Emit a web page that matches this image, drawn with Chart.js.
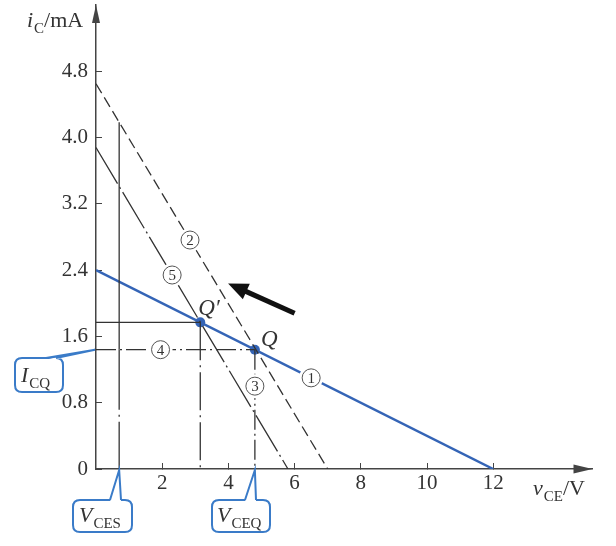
<!DOCTYPE html>
<html>
<head>
<meta charset="utf-8">
<script src="https://cdn.jsdelivr.net/npm/chart.js@4.4.1/dist/chart.umd.min.js"></script>
<style>
  html, body { margin: 0; padding: 0; background: #fff; }
  #wrap { width: 616px; height: 546px; }
</style>
</head>
<body>
<div id="wrap"><canvas id="chart"></canvas></div>
<script>
// Transistor output characteristic: load lines and Q points

// axis ticks
const xTicks = [0, 2, 4, 6, 8, 10, 12];
const yTicks = [0, 0.8, 1.6, 2.4, 3.2, 4.0, 4.8];

// lines as [start, end]: v_CE in V, i_C in mA
const line1V = [0, 12];   const line1I = [2.4, 0];    // (1) load line
const line2V = [0, 7];    const line2I = [4.65, 0];   // (2)
const line5V = [0, 5.8];  const line5I = [3.88, 0];   // (5)

// operating points Q and Q'
const pointV = [4.8, 3.15];
const pointI = [1.44, 1.77];
const vCES = 0.7;

const ink = '#333';
const blue = '#3464b6';
const serif = '"Liberation Serif", "Times New Roman", serif';

function seg(vs, is, opts) {
    return Object.assign({
        type: 'line',
        data: vs.map((v, k) => ({ x: v, y: is[k] })),
        borderColor: ink,
        borderWidth: 1.3,
        pointRadius: 0,
        fill: false,
        tension: 0
    }, opts || {});
}

function iOnLine(vs, is, v) {
    return is[0] + (is[1] - is[0]) * (v - vs[0]) / (vs[1] - vs[0]);
}

const vQ = pointV[0], iQ = pointI[0];
const vQp = pointV[1], iQp = pointI[1];
const iTopCES = iOnLine(line2V, line2I, vCES);

const datasets = [
    seg(line2V, line2I, { borderDash: [11, 5] }),
    seg(line5V, line5I, { borderDash: [42, 4, 2, 4] }),
    seg([vCES, vCES], [iTopCES, iQ]),
    seg([vCES, vCES], [iQ, 0], { borderDash: [60, 5, 2, 5] }),
    seg([0, vQp], [iQp, iQp]),
    seg([vQp, vQp], [iQp, 0], { borderDash: [38, 5, 2, 5] }),
    seg([0, vQ], [iQ, iQ], { borderDash: [20, 4, 2, 4] }),
    seg([vQ, vQ], [iQ, 0], { borderDash: [20, 4, 2, 4] }),
    seg(line1V, line1I, { borderColor: blue, borderWidth: 2.5 }),
    {
        type: 'scatter',
        data: pointV.map((v, k) => ({ x: v, y: pointI[k] })),
        pointRadius: 5,
        pointBackgroundColor: blue,
        pointBorderWidth: 0
    }
];

// text with subscript: parts = [[text, italic, sub], ...]
function richText(ctx, x, y, parts) {
    ctx.textAlign = 'left';
    ctx.textBaseline = 'alphabetic';
    ctx.fillStyle = ink;
    parts.forEach(p => {
        const size = p[2] ? 15 : 22;
        ctx.font = (p[1] ? 'italic ' : '') + size + 'px ' + serif;
        ctx.fillText(p[0], x, y + (p[2] ? 6 : 0));
        x += ctx.measureText(p[0]).width + (p[1] ? 1 : 0);
    });
}

function circled(ctx, x, y, n) {
    ctx.beginPath();
    ctx.arc(x, y, 12, 0, Math.PI * 2);
    ctx.fillStyle = '#fff';
    ctx.fill();
    ctx.beginPath();
    ctx.arc(x, y, 9, 0, Math.PI * 2);
    ctx.lineWidth = 1;
    ctx.strokeStyle = '#555';
    ctx.stroke();
    ctx.fillStyle = ink;
    ctx.font = '15px ' + serif;
    ctx.textAlign = 'center';
    ctx.textBaseline = 'middle';
    ctx.fillText(n, x, y + 1);
}

function roundRect(ctx, x, y, w, h, r) {
    ctx.beginPath();
    ctx.moveTo(x + r, y);
    ctx.lineTo(x + w - r, y);
    ctx.quadraticCurveTo(x + w, y, x + w, y + r);
    ctx.lineTo(x + w, y + h - r);
    ctx.quadraticCurveTo(x + w, y + h, x + w - r, y + h);
    ctx.lineTo(x + r, y + h);
    ctx.quadraticCurveTo(x, y + h, x, y + h - r);
    ctx.lineTo(x, y + r);
    ctx.quadraticCurveTo(x, y, x + r, y);
    ctx.closePath();
}

// callout box with a wedge pointer from the top edge to the tip
function callout(ctx, bx, by, bw, bh, b1, b2, tip, parts, tx, ty) {
    ctx.save();
    ctx.lineWidth = 2;
    ctx.strokeStyle = '#3a7bc8';
    roundRect(ctx, bx, by, bw, bh, 7);
    ctx.fillStyle = '#fff';
    ctx.fill();
    ctx.stroke();
    ctx.beginPath();
    ctx.moveTo(b1, by + 1.5);
    ctx.lineTo(tip[0], tip[1]);
    ctx.lineTo(b2, by + 1.5);
    ctx.closePath();
    ctx.fillStyle = '#fff';
    ctx.fill();
    ctx.beginPath();
    ctx.moveTo(b1, by);
    ctx.lineTo(tip[0], tip[1]);
    ctx.lineTo(b2, by);
    ctx.stroke();
    ctx.restore();
    richText(ctx, tx, ty, parts);
}

const decorations = {
    id: 'decorations',
    afterDatasetsDraw(chart) {
        const ctx = chart.ctx;
        const xs = chart.scales.x, ys = chart.scales.y;
        const X = v => xs.getPixelForValue(v);
        const Y = i => ys.getPixelForValue(i);
        const area = chart.chartArea;
        const ox = X(0), oy = Y(0);
        ctx.save();

        // axis arrowheads
        ctx.fillStyle = '#444';
        ctx.beginPath();
        ctx.moveTo(ox, area.top);
        ctx.lineTo(ox - 4, area.top + 18);
        ctx.lineTo(ox + 4, area.top + 18);
        ctx.closePath();
        ctx.fill();
        ctx.beginPath();
        ctx.moveTo(area.right, oy);
        ctx.lineTo(area.right - 19, oy - 4.5);
        ctx.lineTo(area.right - 19, oy + 4.5);
        ctx.closePath();
        ctx.fill();

        // axis titles
        richText(ctx, 27, 27, [['i', true, false], ['C', false, true], ['/mA', false, false]]);
        richText(ctx, 533, 495, [['v', true, false], ['CE', false, true], ['/V', false, false]]);

        // circled line numbers
        circled(ctx, X(6.5), Y(iOnLine(line1V, line1I, 6.5)), '1');
        circled(ctx, X(2.84), Y(iOnLine(line2V, line2I, 2.84)), '2');
        circled(ctx, X(2.3), Y(iOnLine(line5V, line5I, 2.3)), '5');
        circled(ctx, X(1.95), Y(iQ), '4');
        circled(ctx, X(vQ), Y(1.0), '3');

        // point names
        ctx.fillStyle = ink;
        ctx.font = 'italic 23px ' + serif;
        ctx.textAlign = 'left';
        ctx.textBaseline = 'alphabetic';
        ctx.fillText('Q', X(vQ) + 6, Y(iQ) - 4);
        ctx.fillText('Q\u2032', X(vQp) - 2, Y(iQp) - 7);

        // shift arrow
        const t = [X(6.0), Y(1.88)], h = [X(3.99), Y(2.24)];
        const ang = Math.atan2(h[1] - t[1], h[0] - t[0]);
        const hl = 20, hw = 8.5;
        const bxp = h[0] - hl * Math.cos(ang), byp = h[1] - hl * Math.sin(ang);
        ctx.strokeStyle = '#111';
        ctx.lineWidth = 5;
        ctx.beginPath();
        ctx.moveTo(t[0], t[1]);
        ctx.lineTo(bxp + 3 * Math.cos(ang), byp + 3 * Math.sin(ang));
        ctx.stroke();
        ctx.fillStyle = '#111';
        ctx.beginPath();
        ctx.moveTo(h[0], h[1]);
        ctx.lineTo(bxp - hw * Math.sin(ang), byp + hw * Math.cos(ang));
        ctx.lineTo(bxp + hw * Math.sin(ang), byp - hw * Math.cos(ang));
        ctx.closePath();
        ctx.fill();

        // callouts
        callout(ctx, 15, 358, 48, 34, 46, 56, [ox - 1, Y(iQ)],
            [['I', true, false], ['CQ', false, true]], 21, 382);
        callout(ctx, 73, 500, 59, 32, 110, 121, [X(vCES), oy + 1],
            [['V', true, false], ['CES', false, true]], 79, 522);
        callout(ctx, 212, 500, 58, 32, 245, 256, [X(vQ), oy + 1],
            [['V', true, false], ['CEQ', false, true]], 217, 522);

        ctx.restore();
    }
};

Chart.defaults.font.family = serif;
Chart.defaults.font.size = 21;
Chart.defaults.color = ink;

function noPadding(scale) {
    scale.paddingTop = 0;
    scale.paddingBottom = 0;
    scale.paddingLeft = 0;
    scale.paddingRight = 0;
}

new Chart(document.getElementById('chart'), {
    type: 'scatter',
    data: { datasets: datasets },
    options: {
        responsive: true,
        maintainAspectRatio: false,
        animation: false,
        layout: { padding: { top: 5, right: 23.5, left: 0, bottom: 0 } },
        plugins: { legend: { display: false }, tooltip: { enabled: false } },
        scales: {
            x: {
                type: 'linear',
                min: 0,
                max: 15,
                afterBuildTicks: scale => { scale.ticks = xTicks.map(v => ({ value: v })); },
                afterFit: scale => { scale.height = 77; noPadding(scale); },
                ticks: {
                    padding: 8,
                    maxRotation: 0,
                    autoSkip: false,
                    callback: v => (v === 0 ? null : String(v))
                },
                grid: { drawOnChartArea: false, tickLength: -6, color: '#444', lineWidth: 1 },
                border: { color: '#444', width: 1.5 }
            },
            y: {
                type: 'linear',
                min: 0,
                max: 5.6,
                afterBuildTicks: scale => { scale.ticks = yTicks.map(v => ({ value: v })); },
                afterFit: scale => { scale.width = 96; noPadding(scale); },
                ticks: {
                    padding: 14,
                    autoSkip: false,
                    callback: v => (v === 0 ? '0' : v.toFixed(1))
                },
                grid: { drawOnChartArea: false, tickLength: -6, color: '#444', lineWidth: 1 },
                border: { color: '#444', width: 1.5 }
            }
        }
    },
    plugins: [decorations]
});
</script>
</body>
</html>
